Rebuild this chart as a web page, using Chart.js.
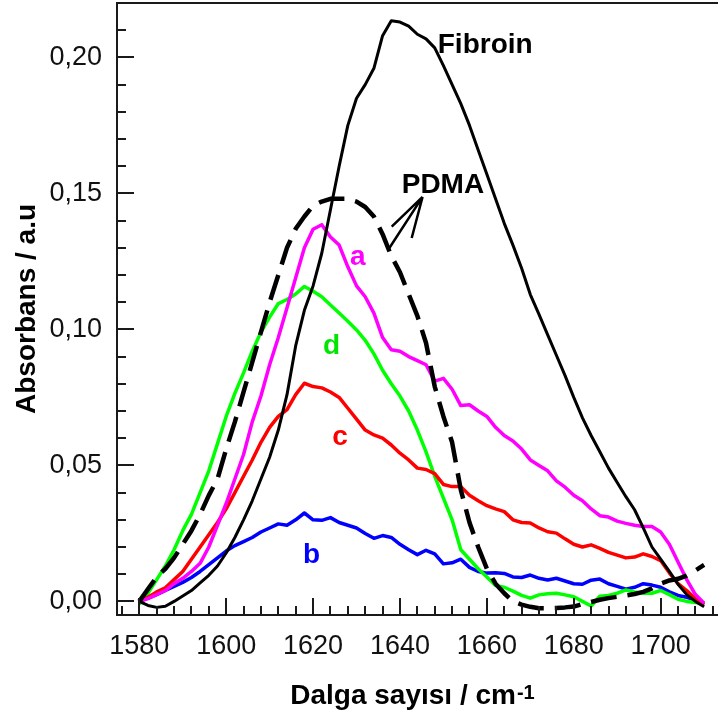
<!DOCTYPE html>
<html>
<head>
<meta charset="utf-8">
<script src="https://cdn.jsdelivr.net/npm/chart.js@4.4.0/dist/chart.umd.min.js"></script>
<style>
html,body{margin:0;padding:0;background:#fff;}
#wrap{width:718px;height:717px;position:relative;}
</style>
</head>
<body>
<div id="wrap"><canvas id="c" width="718" height="717"></canvas></div>
<script>
// ---- data (wavenumber in cm-1, absorbance in a.u.) ----
const wavenumbers = [
  1580,1582,1584,1586,1588,1590,1592,1594,1596,1598,
  1600,1602,1604,1606,1608,1610,1612,1614,1616,1618,
  1620,1622,1624,1626,1628,1630,1632,1634,1636,1638,
  1640,1642,1644,1646,1648,1650,1652,1654,1656,1658,
  1660,1662,1664,1666,1668,1670,1672,1674,1676,1678,
  1680,1682,1684,1686,1688,1690,1692,1694,1696,1698,
  1700,1702,1704,1706,1708,1710
];
const fibroin = [
  0,-0.0015,-0.0022,-0.0018,0.0,0.002,0.004,0.0068,0.0096,0.013,
  0.0178,0.0235,0.030,0.037,0.045,0.053,0.063,0.076,0.094,0.107,
  0.116,0.128,0.144,0.160,0.175,0.185,0.190,0.196,0.208,0.2135,
  0.213,0.2115,0.2085,0.2068,0.2035,0.197,0.190,0.183,0.175,0.166,
  0.157,0.148,0.139,0.131,0.1225,0.1128,0.1055,0.098,0.0905,0.083,
  0.075,0.0675,0.061,0.055,0.049,0.0437,0.0385,0.0337,0.027,0.020,
  0.0155,0.011,0.0063,0.0025,0.000,-0.002
];
const pdma = [
  0,0.0045,0.009,0.012,0.016,0.021,0.026,0.032,0.039,0.045,
  0.056,0.066,0.077,0.088,0.099,0.110,0.120,0.130,0.137,0.1415,
  0.1455,0.147,0.148,0.148,0.148,0.147,0.145,0.1415,0.135,0.127,
  0.121,0.113,0.105,0.095,0.079,0.068,0.0585,0.041,0.029,0.020,
  0.012,0.0065,0.003,0.000,-0.0012,-0.002,-0.0025,-0.0025,-0.0024,-0.0022,
  -0.0019,-0.001,-0.0002,0.0006,0.0012,0.0017,0.0022,0.0027,0.0035,0.0048,
  0.0065,0.0077,0.0083,0.0095,0.0114,0.0134
];
const sampleA = [
  0,0.001,0.0025,0.004,0.0065,0.0085,0.011,0.014,0.020,0.028,
  0.036,0.045,0.054,0.066,0.0755,0.087,0.097,0.108,0.119,0.130,
  0.1368,0.1385,0.134,0.131,0.123,0.116,0.112,0.106,0.097,0.0925,
  0.092,0.090,0.0885,0.087,0.081,0.082,0.078,0.072,0.0723,0.070,
  0.068,0.064,0.061,0.059,0.056,0.052,0.050,0.048,0.0443,0.042,
  0.039,0.037,0.034,0.0315,0.031,0.0295,0.0287,0.028,0.0275,0.0275,
  0.0255,0.021,0.0145,0.008,0.0025,-0.0007
];
const sampleB = [
  0,0.0012,0.0025,0.004,0.0055,0.007,0.0088,0.011,0.0135,0.016,
  0.0185,0.0205,0.022,0.0235,0.0255,0.027,0.0285,0.028,0.030,0.0325,
  0.030,0.0298,0.0308,0.029,0.028,0.027,0.025,0.0232,0.0242,0.0235,
  0.021,0.019,0.0172,0.0188,0.0175,0.0138,0.0142,0.0155,0.0125,0.011,
  0.0104,0.0105,0.0103,0.009,0.0088,0.0097,0.0085,0.0079,0.0085,0.0075,
  0.0065,0.0063,0.0078,0.0082,0.0065,0.0055,0.0045,0.0052,0.0065,0.006,
  0.0052,0.0035,0.0022,0.0015,0.0005,-0.0007
];
const sampleC = [
  0,0.0015,0.0035,0.005,0.008,0.011,0.0155,0.020,0.0245,0.029,
  0.034,0.040,0.046,0.052,0.0585,0.064,0.068,0.0705,0.076,0.0802,
  0.079,0.0785,0.077,0.075,0.071,0.067,0.063,0.0612,0.060,0.0575,
  0.0545,0.052,0.049,0.0485,0.047,0.043,0.0422,0.0422,0.039,0.037,
  0.0352,0.034,0.033,0.030,0.029,0.0288,0.027,0.0256,0.0251,0.023,
  0.021,0.020,0.0208,0.0195,0.018,0.017,0.016,0.0163,0.0175,0.0165,
  0.015,0.0105,0.0065,0.004,0.001,-0.0013
];
const sampleD = [
  -0.001,0.003,0.008,0.013,0.019,0.026,0.032,0.040,0.048,0.058,
  0.068,0.0765,0.084,0.092,0.099,0.1045,0.1095,0.111,0.113,0.1158,
  0.114,0.112,0.109,0.106,0.103,0.0998,0.096,0.091,0.085,0.080,
  0.0755,0.070,0.063,0.055,0.046,0.038,0.030,0.019,0.0155,0.012,
  0.009,0.0058,0.0052,0.0038,0.0022,0.0012,0.0024,0.0028,0.003,0.0024,
  0.0017,0.0,-0.0017,0.0019,0.0022,0.003,0.0042,0.0035,0.003,0.003,
  0.004,0.0025,0.0008,0.0,-0.0004,-0.0007
];
const xTickValues = [1580,1600,1620,1640,1660,1680,1700];
const yTickValues = [0,0.05,0.10,0.15,0.20];
const curveLabels = [
  {text:'Fibroin', x:1648.7, y:0.2016, color:'#000000'},
  {text:'PDMA',    x:1640.4, y:0.1501, color:'#000000'},
  {text:'a',       x:1628.5, y:0.1238, color:'#ff00ff'},
  {text:'d',       x:1622.3, y:0.0910, color:'#00e600'},
  {text:'c',       x:1624.4, y:0.0576, color:'#ff0000'},
  {text:'b',       x:1617.7, y:0.0142, color:'#0000ff'}
];
// arrow from "PDMA" label to its curve: [from, to] in data units
const pdmaArrows = [
  [[1645.2,0.1487],[1637.3,0.1293]],
  [[1645.2,0.1487],[1638.1,0.1378]],
  [[1645.2,0.1487],[1642.7,0.1336]]
];

const FONT = '"Liberation Sans", Arial, sans-serif';

function series(label, arr, color, width, dash){
  return {
    label, data: wavenumbers.map((w,i)=>({x:w, y:arr[i]})),
    borderColor: color, borderWidth: width, borderDash: dash || [],
    pointRadius: 0, tension: 0, fill: false,
    borderJoinStyle: 'round', borderCapStyle: 'butt'
  };
}

function noPad(s){ s.paddingTop = 0; s.paddingBottom = 0; s.paddingLeft = 0; s.paddingRight = 0; }

const framePlugin = {
  id: 'frame',
  afterDraw(chart){
    const {ctx, chartArea:a, scales:{x, y}} = chart;
    ctx.save();
    ctx.strokeStyle = '#1a1a1a';
    ctx.lineWidth = 2;
    ctx.beginPath();
    ctx.moveTo(a.left, a.top); ctx.lineTo(a.right, a.top);
    for (let v = 1576; v <= 1712; v += 4){
      const px = Math.round(x.getPixelForValue(v));
      const len = xTickValues.includes(v) ? 17 : 9;
      ctx.moveTo(px, a.bottom); ctx.lineTo(px, a.bottom - len);
    }
    for (let k = 0; k <= 21; k++){
      const py = Math.round(y.getPixelForValue(k/100));
      const len = (k % 5 === 0) ? 17 : 9;
      ctx.moveTo(a.left, py); ctx.lineTo(a.left + len, py);
    }
    ctx.stroke();
    ctx.restore();
  },
  afterDatasetsDraw(chart){
    const {ctx, scales:{x, y}} = chart;
    ctx.save();
    ctx.font = 'bold 28px ' + FONT;
    ctx.textBaseline = 'alphabetic';
    ctx.textAlign = 'left';
    curveLabels.forEach(l=>{
      ctx.fillStyle = l.color;
      ctx.fillText(l.text, x.getPixelForValue(l.x), y.getPixelForValue(l.y));
    });
    ctx.strokeStyle = '#000';
    ctx.lineWidth = 2.5;
    ctx.beginPath();
    pdmaArrows.forEach(([p,q])=>{
      ctx.moveTo(x.getPixelForValue(p[0]), y.getPixelForValue(p[1]));
      ctx.lineTo(x.getPixelForValue(q[0]), y.getPixelForValue(q[1]));
    });
    ctx.stroke();
    const main = 'Dalga sayısı / cm', sup = '-1';
    ctx.fillStyle = '#000';
    ctx.font = 'bold 28px ' + FONT;
    const w1 = ctx.measureText(main).width;
    ctx.font = 'bold 20px ' + FONT;
    const w2 = ctx.measureText(sup).width;
    const cx = 412, start = cx - (w1 + w2) / 2;
    ctx.font = 'bold 28px ' + FONT;
    ctx.fillText(main, start, 704);
    ctx.font = 'bold 20px ' + FONT;
    ctx.fillText(sup, start + w1 + 1, 699);
    ctx.restore();
  }
};

new Chart(document.getElementById('c'), {
  type: 'line',
  data: {
    datasets: [
      series('Fibroin', fibroin, '#000000', 3),
      series('PDMA', pdma, '#000000', 4.5, [26, 11]),
      series('a', sampleA, '#ff00ff', 3.5),
      series('c', sampleC, '#ff0000', 3.5),
      series('d', sampleD, '#00ff00', 3.5),
      series('b', sampleB, '#0000ff', 3.5)
    ]
  },
  options: {
    responsive: false,
    animation: false,
    layout: {padding: {top: 3, right: 0, bottom: 0, left: 0}},
    plugins: {legend: {display: false}, tooltip: {enabled: false}},
    scales: {
      x: {
        type: 'linear', min: 1574.87, max: 1713.2,
        grid: {display: false, drawTicks: false},
        border: {display: true, color: '#1a1a1a', width: 2},
        ticks: {
          font: {family: FONT, size: 27}, color: '#111',
          padding: 15, maxRotation: 0, autoSkip: false,
          callback: v => String(v)
        },
        afterBuildTicks: s => { s.ticks = xTickValues.map(v => ({value: v})); },
        afterFit: s => { s.height = 102; noPad(s); }
      },
      y: {
        type: 'linear', min: -0.005, max: 0.22,
        grid: {display: false, drawTicks: false},
        border: {display: true, color: '#1a1a1a', width: 2},
        ticks: {
          font: {family: FONT, size: 27}, color: '#111',
          padding: 15,
          callback: v => Number(v).toFixed(2).replace('.', ',')
        },
        afterBuildTicks: s => { s.ticks = yTickValues.map(v => ({value: v})); },
        afterFit: s => { s.width = 117; noPad(s); },
        title: {
          display: true, text: 'Absorbans / a.u', color: '#000',
          font: {family: FONT, size: 28, weight: 'bold'},
          padding: {top: 10, bottom: 0}
        }
      }
    }
  },
  plugins: [framePlugin]
});
</script>
</body>
</html>
